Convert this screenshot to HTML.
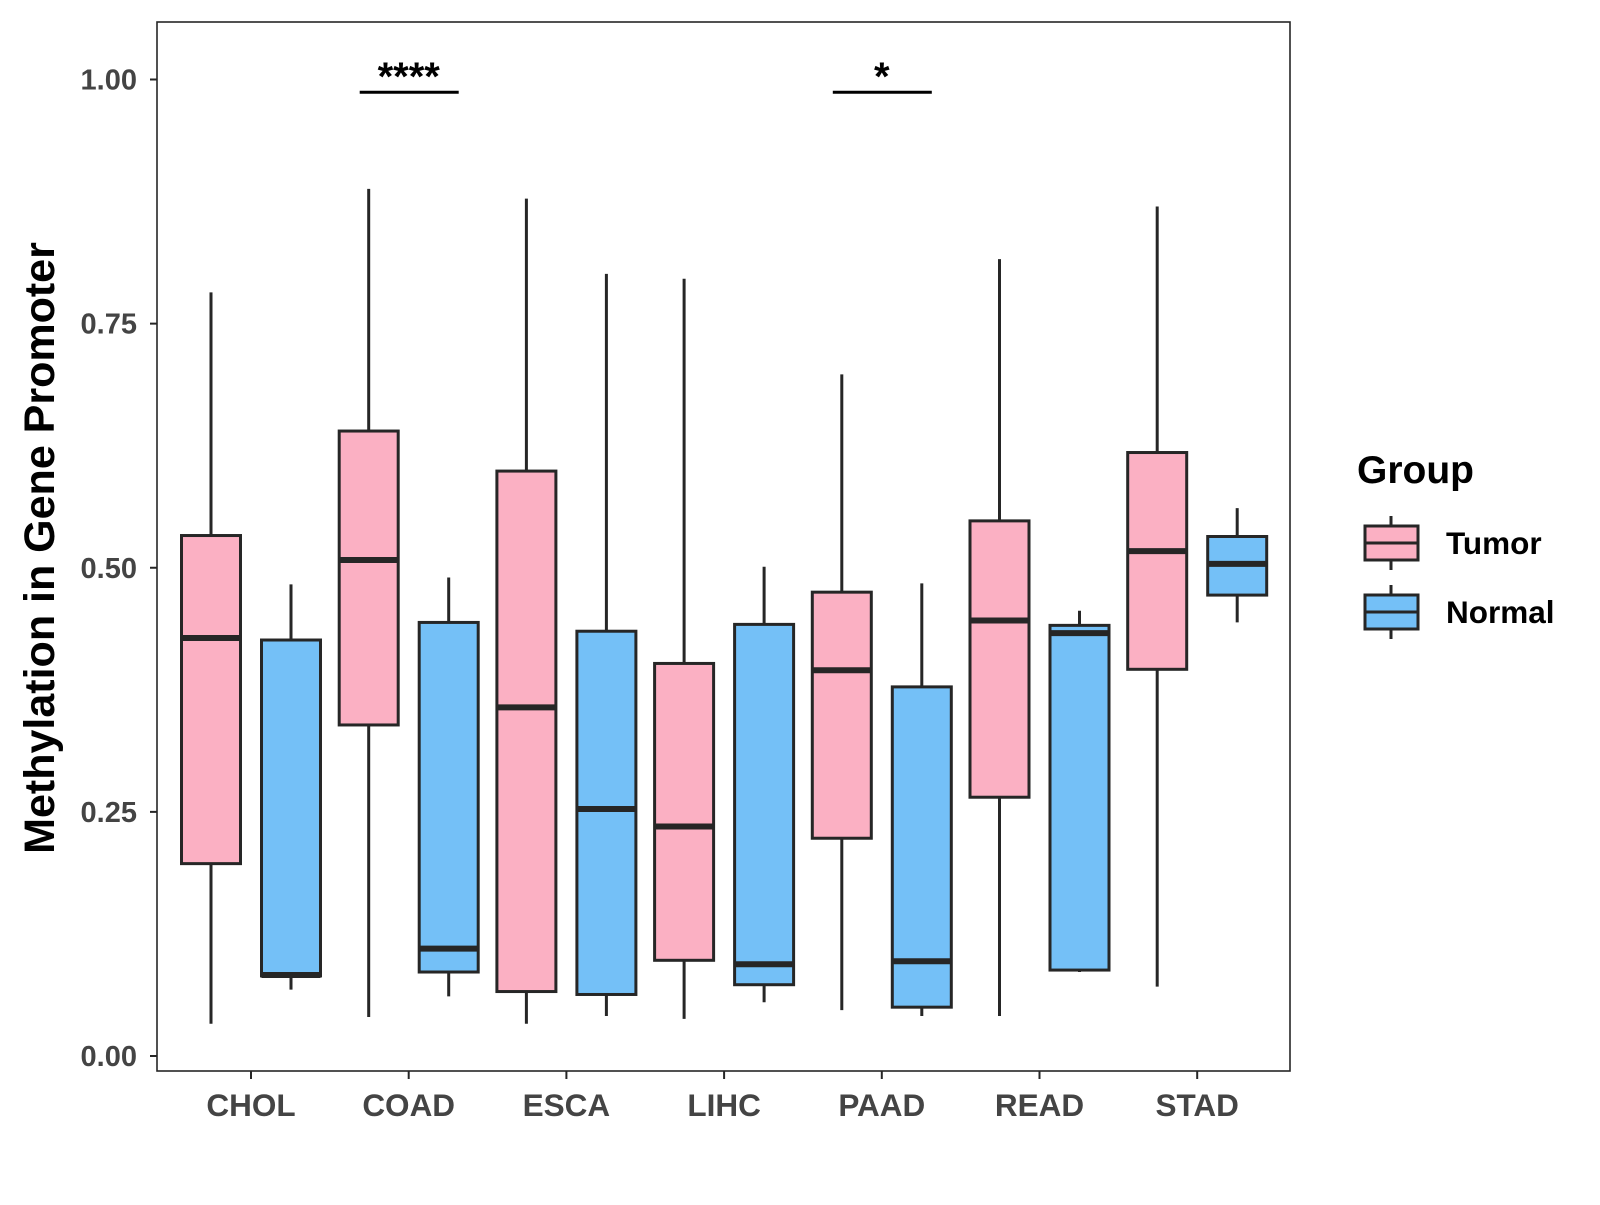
<!DOCTYPE html>
<html><head><meta charset="utf-8"><style>
body{margin:0;background:#fff;}
svg text{font-family:"Liberation Sans",Arial,sans-serif;font-weight:bold;}
</style></head><body>
<svg id="chart" width="1600" height="1200" viewBox="0 0 1600 1200">
<rect x="0" y="0" width="1600" height="1200" fill="#fff"/>
<g id="plot"></g>
</svg>
<script>
const categories=["CHOL","COAD","ESCA","LIHC","PAAD","READ","STAD"];
// [lowWhisker, Q1, median, Q3, highWhisker]
const tumorStats=[[0.033,0.197,0.428,0.533,0.782],[0.040,0.339,0.508,0.640,0.888],[0.033,0.066,0.357,0.599,0.878],[0.038,0.098,0.235,0.402,0.796],[0.047,0.223,0.395,0.475,0.698],[0.041,0.265,0.446,0.548,0.816],[0.071,0.396,0.517,0.618,0.870]];
const normalStats=[[0.068,0.082,0.083,0.426,0.483],[0.061,0.086,0.110,0.444,0.490],[0.041,0.063,0.253,0.435,0.801],[0.055,0.073,0.094,0.442,0.501],[0.041,0.050,0.097,0.378,0.484],[0.086,0.088,0.433,0.441,0.456],[0.444,0.472,0.504,0.532,0.561]];
const yTicks=[0,0.25,0.5,0.75,1.0];
const yTickLabels=["0.00","0.25","0.50","0.75","1.00"];
const sigCats=["COAD","PAAD"];
const sigLabels=["****","*"];
const sigY=[0.987,0.987];

const NS="http://www.w3.org/2000/svg";
const g=document.getElementById('plot');
const L=157,R=1290,T=22,B=1071;
const y=v=>1056-v*976.5;
const xc=i=>251+i*157.7;
const OFF=40,BW=59;
function mk(tag,attrs,parent){const e=document.createElementNS(NS,tag);for(const k in attrs)e.setAttribute(k,attrs[k]);(parent||g).appendChild(e);return e;}
const col="#262626";
const panel=mk('rect',{x:L,y:T,width:R-L,height:B-T,fill:'none',stroke:col,'stroke-width':1.6});


yTicks.forEach((v,i)=>{
  const t=mk('line',{x1:L-7,x2:L,y1:y(v),y2:y(v),stroke:col,'stroke-width':2});
  
  
  const tx=mk('text',{x:L-20,y:y(v)+10,'text-anchor':'end','font-size':29,fill:'#444'});
  tx.textContent=yTickLabels[i];
  
  
});
function box(i,s,off,fill,name){
  const cx=xc(i)+off;
  const grp=mk('g',{});
  
  
  mk('line',{x1:cx,x2:cx,y1:y(s[4]),y2:y(s[0]),stroke:col,'stroke-width':3},grp);
  mk('rect',{x:cx-BW/2,y:y(s[3]),width:BW,height:y(s[1])-y(s[3]),fill:fill,stroke:col,'stroke-width':3},grp);
  mk('line',{x1:cx-BW/2,x2:cx+BW/2,y1:y(s[2]),y2:y(s[2]),stroke:col,'stroke-width':6},grp);
}
categories.forEach((c,i)=>{
  box(i,tumorStats[i],-OFF,'#FBB0C3','box-tumor-'+c.toLowerCase());
  box(i,normalStats[i],OFF,'#74C0F7','box-normal-'+c.toLowerCase());
  const t=mk('line',{x1:xc(i),x2:xc(i),y1:B,y2:B+8,stroke:col,'stroke-width':2});
  
  
  const tx=mk('text',{x:xc(i),y:1116,'text-anchor':'middle','font-size':31.5,fill:'#444'});
  tx.textContent=c;
  
  
});
sigCats.forEach((c,k)=>{
  const i=categories.indexOf(c);
  const ln=mk('line',{x1:xc(i)-OFF-9,x2:xc(i)+OFF+10,y1:y(sigY[k]),y2:y(sigY[k]),stroke:'#000','stroke-width':3});
  
  
  const tx=mk('text',{x:xc(i),y:y(sigY[k])-2,'text-anchor':'middle','font-size':40,fill:'#000'});
  tx.textContent=sigLabels[k];
  
  
});
const yt=mk('text',{x:0,y:0,transform:'translate(54,548) rotate(-90)','text-anchor':'middle','font-size':43,fill:'#000'});
yt.textContent='Methylation in Gene Promoter';


const lt=mk('text',{x:1357,y:483,'font-size':39,fill:'#000'});
lt.textContent='Group';


[['Tumor','#FBB0C3',543],['Normal','#74C0F7',612]].forEach(([lab,f,cy])=>{
  const lg=mk('g',{});
  
  
  mk('line',{x1:1391,x2:1391,y1:cy-27,y2:cy+27,stroke:col,'stroke-width':3},lg);
  mk('rect',{x:1365,y:cy-17,width:53,height:34,fill:f,stroke:col,'stroke-width':3},lg);
  mk('line',{x1:1365,x2:1418,y1:cy,y2:cy,stroke:col,'stroke-width':3},lg);
  const tx=mk('text',{x:1446,y:cy+11,'font-size':31.5,fill:'#000'},lg);
  tx.textContent=lab;
});
</script>
</body></html>
